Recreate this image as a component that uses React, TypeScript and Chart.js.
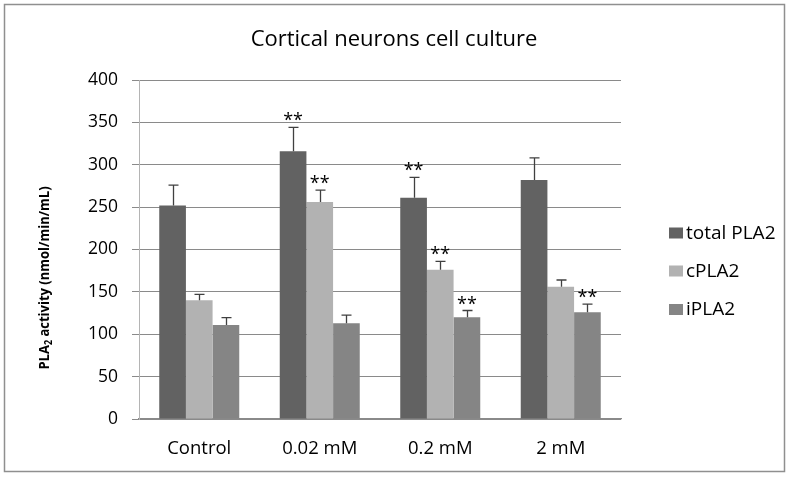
import React, { useEffect, useRef } from 'react';
import { Chart, registerables } from 'chart.js';

Chart.register(...registerables);

const chartTitle = 'Cortical neurons cell culture';
const categories = ['Control', '0.02 mM', '0.2 mM', '2 mM'];
const seriesNames = ['total PLA2', 'cPLA2', 'iPLA2'];
const totalPLA2 = [252, 316, 261, 282];
const cPLA2 = [140, 256, 176, 156];
const iPLA2 = [111, 113, 120, 126];
const totalErr = [24, 28, 24, 26];
const cErr = [7, 14, 10, 8];
const iErr = [8.5, 9.5, 8, 9.5];
const totalSig = [false, true, true, false];
const cSig = [false, true, true, false];
const iSig = [false, false, true, true];
const yTicksMin = 0;
const yTicksMax = 400;
const yTicksStep = 50;

const FONT = '"Open Sans", sans-serif';
const COLORS = ['#626262', '#b2b2b2', '#858585'];

export default function App() {
  const ref = useRef<HTMLCanvasElement>(null);

  useEffect(() => {
    const canvas = ref.current!;
    const errs = [totalErr, cErr, iErr];
    const sigs = [totalSig, cSig, iSig];

    const decor = {
      id: 'decor',
      beforeDraw(chart: any) {
        const ctx = chart.ctx as CanvasRenderingContext2D;
        ctx.save();
        ctx.fillStyle = '#fff';
        ctx.fillRect(0, 0, chart.width, chart.height);
        ctx.strokeStyle = '#8f8f8f';
        ctx.lineWidth = 1.5;
        ctx.strokeRect(4.5, 4.5, 780, 467);

        // title
        ctx.fillStyle = '#000';
        ctx.font = `22px ${FONT}`;
        ctx.textAlign = 'center';
        ctx.textBaseline = 'alphabetic';
        ctx.fillText(chartTitle, 394, 46);

        // y axis title with subscript
        ctx.save();
        ctx.translate(43, 278);
        ctx.rotate(-Math.PI / 2);
        ctx.scale(1, 1.15);
        const big = `bold 13px ${FONT}`;
        const small = `bold 9px ${FONT}`;
        const p1 = 'PLA';
        const p2 = '2';
        const p3 = ' activity (nmol/min/mL)';
        ctx.font = big;
        const w1 = ctx.measureText(p1).width;
        const w3 = ctx.measureText(p3).width;
        ctx.font = small;
        const w2 = ctx.measureText(p2).width;
        let x = -(w1 + w2 + w3) / 2;
        ctx.textAlign = 'left';
        ctx.textBaseline = 'alphabetic';
        ctx.fillStyle = '#000';
        ctx.font = big;
        ctx.fillText(p1, x, 5);
        x += w1;
        ctx.font = small;
        ctx.fillText(p2, x, 8);
        x += w2;
        ctx.font = big;
        ctx.fillText(p3, x, 5);
        ctx.restore();

        // legend
        const ly = [233.5, 271.5, 310];
        chart.data.datasets.forEach((ds: any, i: number) => {
          ctx.fillStyle = ds.backgroundColor;
          ctx.fillRect(669, ly[i] - 6, 14, 11);
          ctx.fillStyle = '#000';
          ctx.font = `19px ${FONT}`;
          ctx.textAlign = 'left';
          ctx.textBaseline = 'middle';
          ctx.fillText(ds.label, 686, ly[i]);
        });
        ctx.restore();
      },
      afterDatasetsDraw(chart: any) {
        const ctx = chart.ctx as CanvasRenderingContext2D;
        const yScale = chart.scales.y;
        ctx.save();
        chart.data.datasets.forEach((ds: any, i: number) => {
          const meta = chart.getDatasetMeta(i);
          meta.data.forEach((el: any, j: number) => {
            const v = ds.data[j];
            const top = yScale.getPixelForValue(v + errs[i][j]);
            const x = Math.round(el.x) + 0.5;
            ctx.strokeStyle = '#404040';
            ctx.lineWidth = 1.3;
            ctx.beginPath();
            ctx.moveTo(x, el.y);
            ctx.lineTo(x, top);
            ctx.moveTo(x - 5, top);
            ctx.lineTo(x + 5, top);
            ctx.stroke();
            if (sigs[i][j]) {
              ctx.fillStyle = '#000';
              ctx.font = `18px ${FONT}`;
              ctx.textAlign = 'center';
              ctx.textBaseline = 'alphabetic';
              ctx.fillText('**', el.x, top - 1);
            }
          });
        });
        ctx.restore();
      },
    };

    const chart = new Chart(canvas, {
      type: 'bar',
      data: {
        labels: categories,
        datasets: [
          { label: seriesNames[0], data: totalPLA2, backgroundColor: COLORS[0] },
          { label: seriesNames[1], data: cPLA2, backgroundColor: COLORS[1] },
          { label: seriesNames[2], data: iPLA2, backgroundColor: COLORS[2] },
        ],
      },
      options: {
        responsive: false,
        animation: false,
        devicePixelRatio: 1,
        layout: { padding: { left: 0, right: 168, top: 80, bottom: 0 } },
        datasets: { bar: { categoryPercentage: 0.664, barPercentage: 1.0 } },
        plugins: {
          legend: { display: false },
          title: { display: false },
          tooltip: { enabled: false },
        },
        scales: {
          x: {
            grid: { display: false, drawTicks: false },
            border: { display: true, color: '#8a8a8a', width: 1.3 },
            ticks: { color: '#000', font: { family: FONT, size: 18.5 }, padding: 19 },
            afterFit: (s: any) => { s.height = 58; },
          },
          y: {
            min: yTicksMin,
            max: yTicksMax,
            ticks: { stepSize: yTicksStep, color: '#000', font: { family: FONT, size: 17.5 }, padding: 14 },
            grid: { color: '#8a8a8a', lineWidth: 1, tickLength: 7 },
            border: { display: true, color: '#b4b4b4', width: 1 },
            afterFit: (s: any) => { s.width = 139; },
          },
        },
      },
      plugins: [decor],
    } as any);

    return () => chart.destroy();
  }, []);

  return (
    <div style={{ position: 'absolute', left: 0, top: 0, width: 789, height: 477, background: '#fff' }}>
      <canvas ref={ref} width={789} height={477} style={{ display: 'block', width: 789, height: 477 }} />
    </div>
  );
}
